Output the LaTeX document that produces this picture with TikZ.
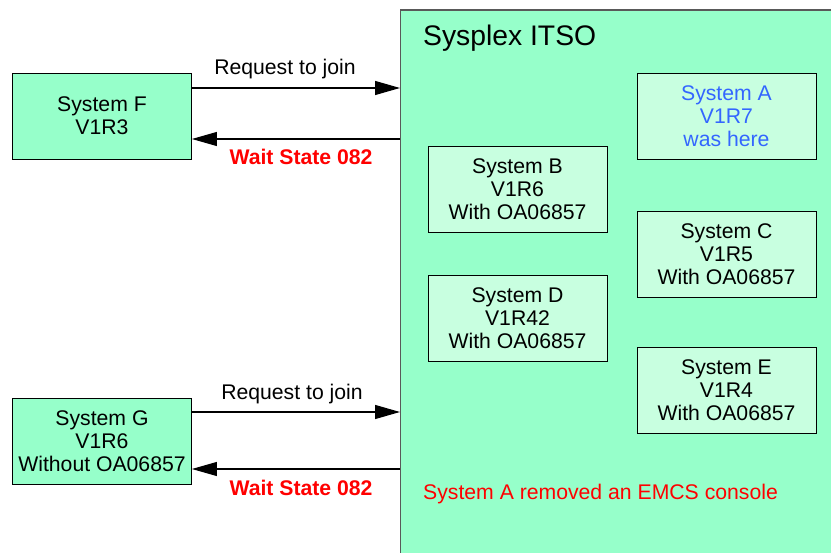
\documentclass[tikz,border=0pt]{standalone}
\usepackage{fontspec}
\setmainfont{Liberation Sans}
\usetikzlibrary{arrows.meta}
\definecolor{plexgreen}{RGB}{150,255,202}
\definecolor{sysgreen}{RGB}{200,255,224}
\definecolor{hereblue}{RGB}{51,102,255}
\definecolor{alertred}{RGB}{255,0,0}
\begin{document}
\begin{tikzpicture}[x=1pt,y=-1pt,
  txt/.style={font=\fontsize{21.2}{23}\selectfont},
  sysbox/.style={txt, draw=black, line width=0.9pt, minimum width=179pt,
    minimum height=86pt, align=center, inner sep=0pt},
  outside/.style={sysbox, fill=plexgreen},
  inside/.style={sysbox, fill=sysgreen},
  arr/.style={draw=black, line width=1.1pt, -{Triangle[length=25pt,width=14pt]}},
  waitlbl/.style={font=\fontsize{21.2}{23}\selectfont\bfseries, text=alertred}]
\useasboundingbox (0,0) rectangle (831,553);
\fill[white] (0,0) rectangle (831,553);

% the sysplex area, running off the right and bottom edges
\begin{scope}
\clip (0,0) rectangle (831,553);
\node[draw=gray!70!black, line width=1.2pt, fill=plexgreen, anchor=north west,
      minimum width=470pt, minimum height=570pt, inner sep=0pt] (plex) at (400,9.5) {};
\end{scope}
\node[anchor=west, inner sep=0pt, font=\fontsize{28.3}{30}\selectfont] (title) at (423,38) {Sysplex ITSO};

% members of the sysplex
\node[inside, text=hereblue] (sa) at (726.5,116.5) {System A\\V1R7\\was here};
\node[inside] (sb) at (517.5,189.5) {System B\\V1R6\\With OA06857};
\node[inside] (sc) at (726.5,254) {System C\\V1R5\\With OA06857};
\node[inside] (sd) at (517.5,318.5) {System D\\V1R42\\With OA06857};
\node[inside] (se) at (726.5,390.5) {System E\\V1R4\\With OA06857};
\node[txt, anchor=west, inner sep=0pt, text=alertred] (note) at (423,494) {System A removed an EMCS console};

% systems trying to join
\node[outside] (sf) at (102,116) {System F\\V1R3};
\node[outside] (sg) at (102,441) {System G\\V1R6\\Without OA06857};

\draw[arr] ([yshift=28pt]sf.east) -- ([yshift=28pt]sf.east -| plex.west);
\node[txt] (rqf) at (285,69) {Request to join};
\draw[arr] ([yshift=-23pt]sf.east -| plex.west) -- ([yshift=-23pt]sf.east);
\node[waitlbl] (wsf) at (301,157) {Wait State 082};

\draw[arr] ([yshift=29pt]sg.east) -- ([yshift=29pt]sg.east -| plex.west);
\node[txt] (rqg) at (292,394) {Request to join};
\draw[arr] ([yshift=-28pt]sg.east -| plex.west) -- ([yshift=-28pt]sg.east);
\node[waitlbl] (wsg) at (301,488) {Wait State 082};
\end{tikzpicture}
\end{document}
